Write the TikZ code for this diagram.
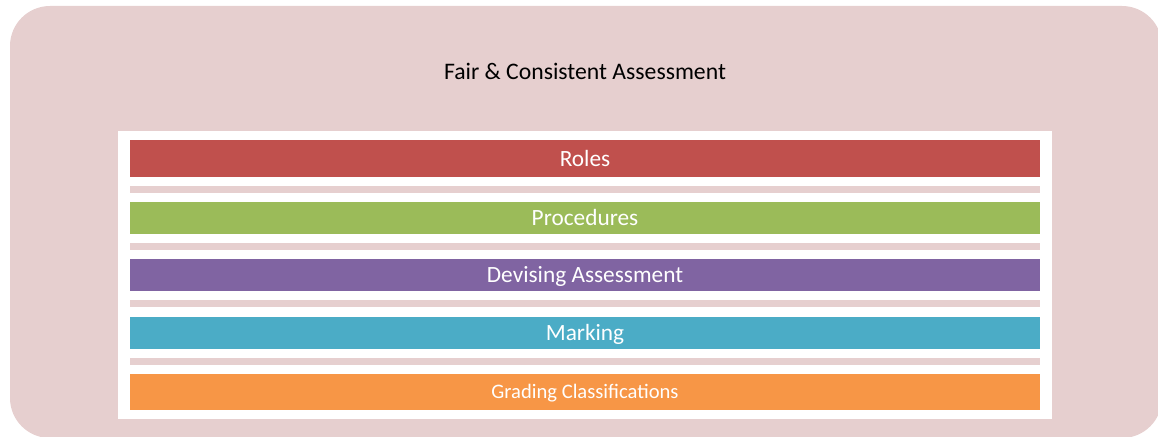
\documentclass[tikz,border=0pt]{standalone}
\usepackage{fontspec}
\setmainfont{Carlito}
\usepackage{xcolor}
\definecolor{panelpink}{RGB}{230, 207, 207}
\definecolor{barred}{RGB}{192, 80, 77}
\definecolor{bargreen}{RGB}{155, 187, 89}
\definecolor{barpurple}{RGB}{128, 100, 162}
\definecolor{barcyan}{RGB}{75, 172, 198}
\definecolor{barorange}{RGB}{247, 150, 70}
\usetikzlibrary{positioning}

\tikzset{
    layer/.style={rectangle, inner sep=0pt, minimum width=910pt, text=white, text height=21pt, text depth=6pt, font=\fontsize{23.3}{27}\selectfont},
    divider/.style={rectangle, inner sep=0pt, fill=panelpink, minimum width=910pt, minimum height=7pt},
}

\begin{document}
\begin{tikzpicture}[x=1pt, y=-1pt]
    \useasboundingbox (0, 0) rectangle (1158, 436);

    % Background panel
    \fill[panelpink, rounded corners=40pt] (10, 6) rectangle (1162, 438);
    \node[font=\fontsize{23.7}{27}\selectfont] (title) at (585, 71) {Fair \& Consistent Assessment};

    % White frame holding the layers
    \node[rectangle, fill=white, inner sep=0pt, minimum width=934pt, minimum height=288pt] (frame) at (585, 275) {};

    % Layers
    \node[layer, fill=barred, minimum height=37pt] (roles) at (585, 158.5) {Roles};
    \node[divider] (div1) at (585, 189.5) {};
    \node[layer, fill=bargreen, minimum height=32pt] (procedures) at (585, 218) {Procedures};
    \node[divider] (div2) at (585, 246.5) {};
    \node[layer, fill=barpurple, minimum height=32pt] (devising) at (585, 275) {Devising Assessment};
    \node[divider] (div3) at (585, 303.5) {};
    \node[layer, fill=barcyan, minimum height=32pt] (marking) at (585, 333) {Marking};
    \node[divider] (div4) at (585, 361.5) {};
    \node[layer, fill=barorange, minimum height=36pt, text height=19pt, text depth=5.7pt, font=\fontsize{20.6}{24}\selectfont] (grading) at (585, 392) {Grading Classifications};
\end{tikzpicture}
\end{document}
